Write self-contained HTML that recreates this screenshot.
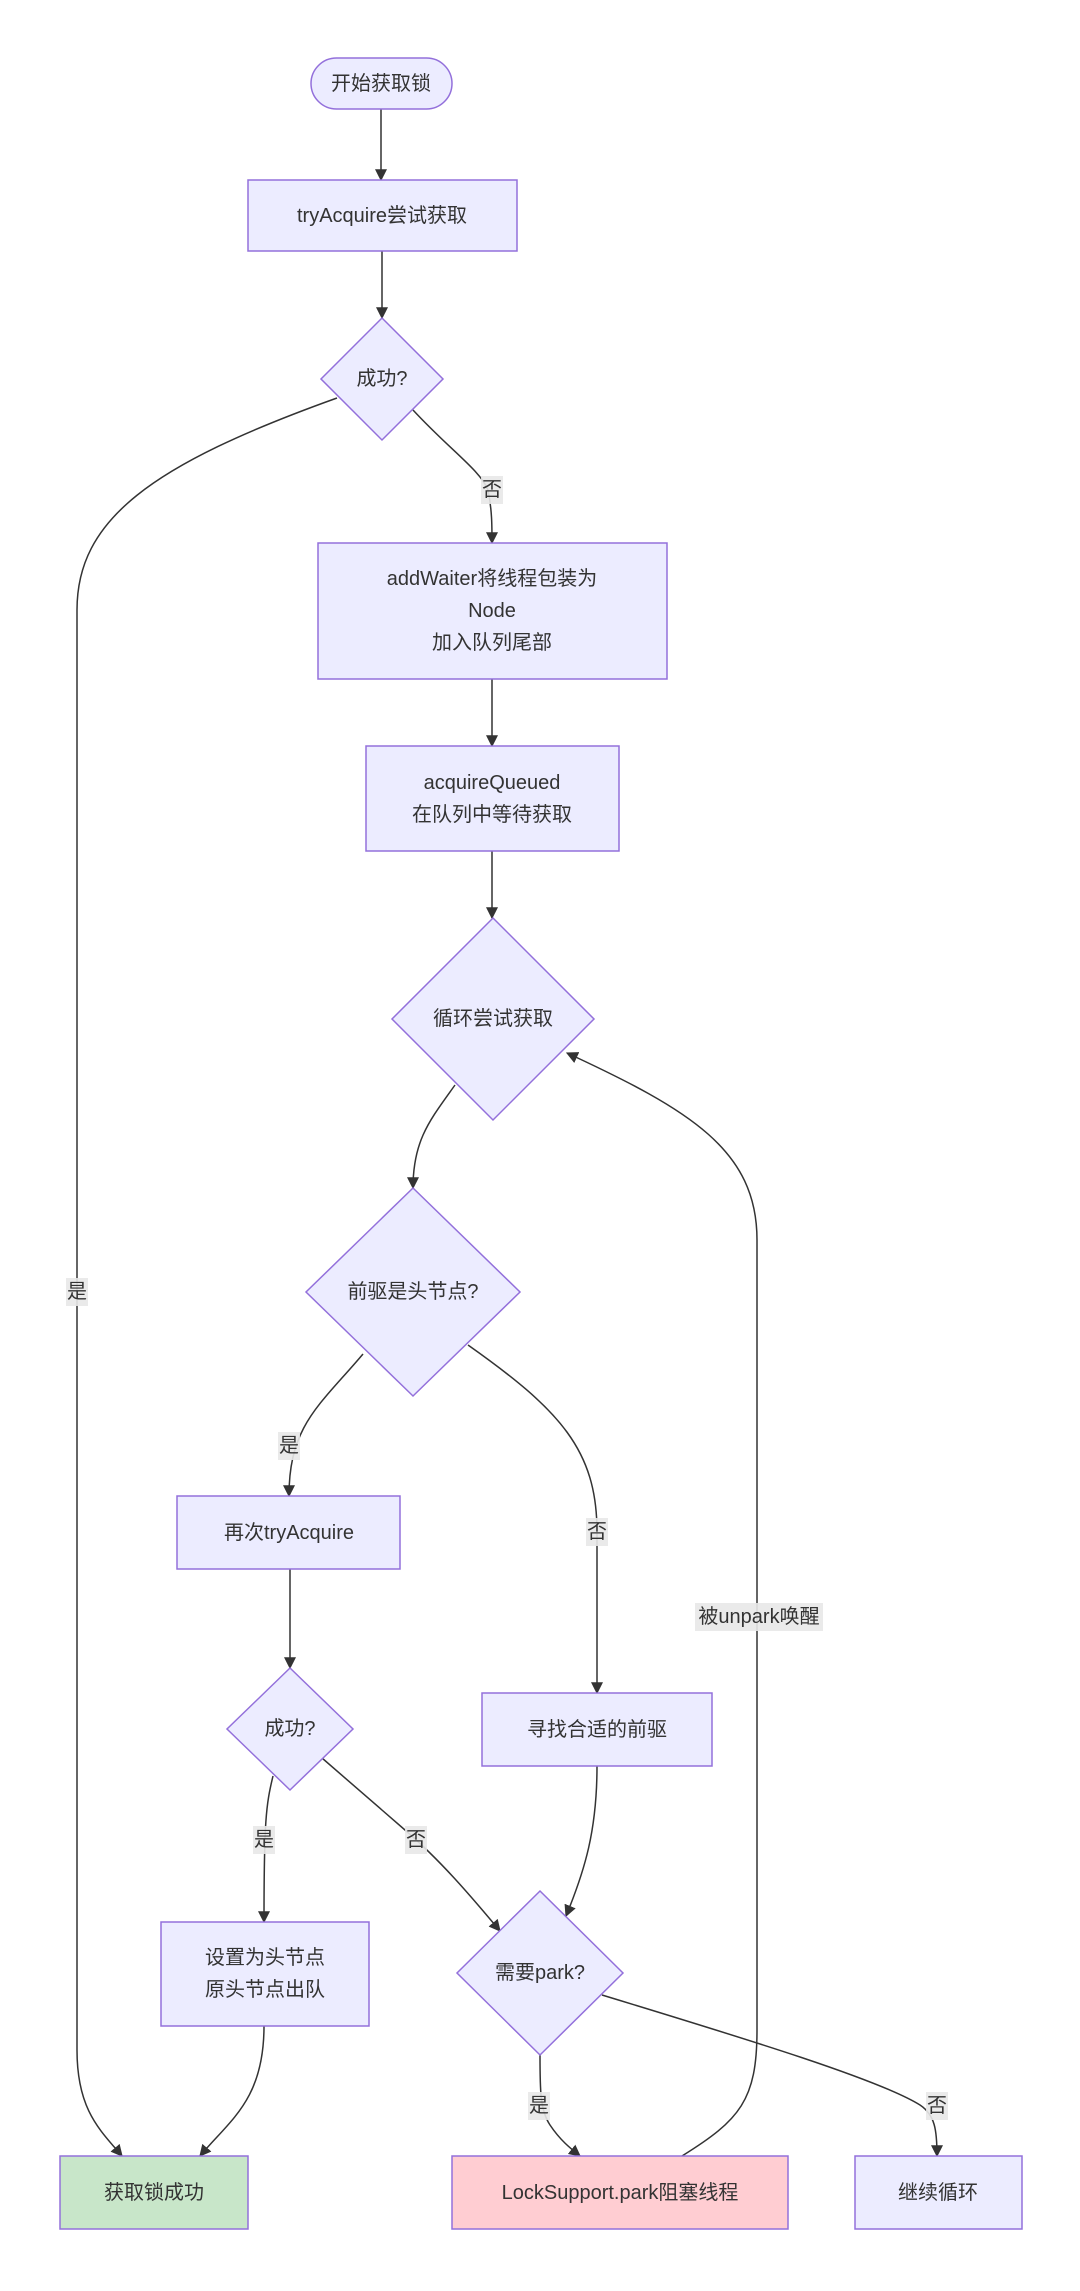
<!DOCTYPE html>
<html><head><meta charset="utf-8"><style>
html,body{margin:0;padding:0;background:#fff;}
svg text{font-family:"Liberation Sans","Noto Sans CJK SC",sans-serif;font-size:20px;fill:#333;text-anchor:middle;dominant-baseline:central;}
.n{fill:#ECECFF;stroke:#9370DB;stroke-width:1.5;}
.e{fill:none;stroke:#333;stroke-width:1.5;marker-end:url(#a);}
.lb{fill:#e8e8e8;opacity:0.9;}
</style></head><body>
<svg width="1080" height="2286" viewBox="0 0 1080 2286" xmlns="http://www.w3.org/2000/svg">
<defs><marker id="a" viewBox="0 0 10 10" refX="9" refY="5" markerWidth="8" markerHeight="8" orient="auto"><path d="M0,0 L10,5 L0,10 z" fill="#333"/></marker></defs>

<!-- edges -->
<path class="e" d="M381,109 L381,180"/>
<path class="e" d="M382,251 L382,318"/>
<path class="e" d="M413,410 C450,450 480,470 488,490 C492,510 492,525 492,543"/>
<path class="e" d="M337,398 C150,465 77,520 77,610 L77,2050 C77,2110 100,2130 122,2156"/>
<path class="e" d="M492,679 L492,746"/>
<path class="e" d="M492,851 L492,918"/>
<path class="e" d="M455,1085 C430,1120 413,1140 413,1188"/>
<path class="e" d="M363,1354 C320,1405 289,1425 289,1496"/>
<path class="e" d="M468,1345 C560,1410 597,1450 597,1532 L597,1693"/>
<path class="e" d="M290,1569 L290,1668"/>
<path class="e" d="M273,1776 C266,1805 264,1820 264,1922"/>
<path class="e" d="M322,1758 L405,1830 C440,1860 470,1895 500,1931"/>
<path class="e" d="M597,1766 C597,1830 585,1870 566,1916"/>
<path class="e" d="M264,2026 C264,2100 230,2120 200,2156"/>
<path class="e" d="M540,2055 C540,2090 540,2110 550,2125 C560,2140 570,2148 580,2156"/>
<path class="e" d="M602,1995 C750,2040 880,2080 920,2105 C935,2115 937,2130 937,2156"/>
<path class="e" d="M682,2156 C740,2120 757,2100 757,2030 L757,1240 C757,1150 690,1110 567,1053"/>

<!-- nodes -->
<rect class="n" x="311" y="58" width="141" height="51" rx="25.5"/>
<text x="381" y="84">开始获取锁</text>
<rect class="n" x="248" y="180" width="269" height="71"/>
<text x="382" y="216">tryAcquire尝试获取</text>
<polygon class="n" points="382,318 443,379 382,440 321,379"/>
<text x="382" y="379">成功?</text>
<rect class="n" x="318" y="543" width="349" height="136"/>
<text x="492" y="579">addWaiter将线程包装为</text>
<text x="492" y="611">Node</text>
<text x="492" y="643">加入队列尾部</text>
<rect class="n" x="366" y="746" width="253" height="105"/>
<text x="492" y="783">acquireQueued</text>
<text x="492" y="815">在队列中等待获取</text>
<polygon class="n" points="493,918 594,1019 493,1120 392,1019"/>
<text x="493" y="1019">循环尝试获取</text>
<polygon class="n" points="413,1188 520,1292 413,1396 306,1292"/>
<text x="413" y="1292">前驱是头节点?</text>
<rect class="n" x="177" y="1496" width="223" height="73"/>
<text x="289" y="1533">再次tryAcquire</text>
<polygon class="n" points="290,1668 353,1729 290,1790 227,1729"/>
<text x="290" y="1729">成功?</text>
<rect class="n" x="482" y="1693" width="230" height="73"/>
<text x="597" y="1730">寻找合适的前驱</text>
<rect class="n" x="161" y="1922" width="208" height="104"/>
<text x="265" y="1958">设置为头节点</text>
<text x="265" y="1990">原头节点出队</text>
<polygon class="n" points="540,1891 623,1973 540,2055 457,1973"/>
<text x="540" y="1973">需要park?</text>
<rect x="60" y="2156" width="188" height="73" fill="#C8E6C9" stroke="#9370DB" stroke-width="1.5"/>
<text x="154" y="2193">获取锁成功</text>
<rect x="452" y="2156" width="336" height="73" fill="#FFCDD2" stroke="#9370DB" stroke-width="1.5"/>
<text x="620" y="2193">LockSupport.park阻塞线程</text>
<rect class="n" x="855" y="2156" width="167" height="73"/>
<text x="938" y="2193">继续循环</text>

<!-- labels -->
<rect class="lb" x="66" y="1278" width="22" height="28"/><text x="77" y="1292">是</text>
<rect class="lb" x="481" y="476" width="22" height="28"/><text x="492" y="490">否</text>
<rect class="lb" x="278" y="1432" width="22" height="28"/><text x="289" y="1446">是</text>
<rect class="lb" x="586" y="1518" width="22" height="28"/><text x="597" y="1532">否</text>
<rect class="lb" x="695" y="1603" width="128" height="28"/><text x="759" y="1617">被unpark唤醒</text>
<rect class="lb" x="253" y="1826" width="22" height="28"/><text x="264" y="1840">是</text>
<rect class="lb" x="405" y="1826" width="22" height="28"/><text x="416" y="1840">否</text>
<rect class="lb" x="528" y="2092" width="22" height="28"/><text x="539" y="2106">是</text>
<rect class="lb" x="926" y="2092" width="22" height="28"/><text x="937" y="2106">否</text>
</svg>
</body></html>
